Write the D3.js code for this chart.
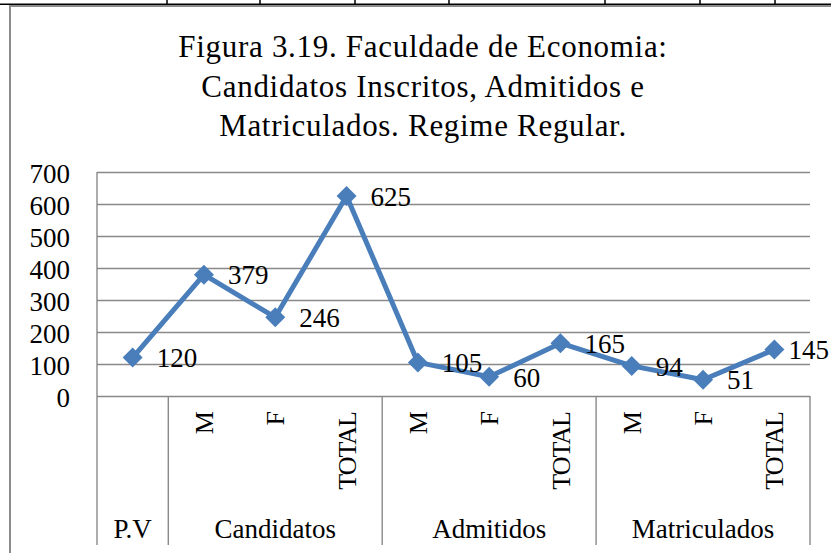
<!DOCTYPE html>
<html>
<head>
<meta charset="utf-8">
<script src="https://cdn.jsdelivr.net/npm/d3@7"></script>
<style>
  html, body { margin: 0; padding: 0; background: #fff; }
  svg { display: block; }
  text { font-family: "Liberation Serif", "Times New Roman", serif; fill: #000; }
</style>
</head>
<body>
<svg id="chart" width="831" height="553"></svg>
<script>
// ---- data ----
const titleLines = ["Figura 3.19. Faculdade de Economia:", "Candidatos Inscritos, Admitidos e", "Matriculados. Regime Regular."];
const groups = ["P.V", "Candidatos", "Admitidos", "Matriculados"];
const groupSizes = [1, 3, 3, 3];
const subLabels = ["", "M", "F", "TOTAL", "M", "F", "TOTAL", "M", "F", "TOTAL"];
const values = [120, 379, 246, 625, 105, 60, 165, 94, 51, 145];
const yTicks = [0, 100, 200, 300, 400, 500, 600, 700];
const topRuleTicks = [167, 260, 355, 449, 605, 700, 775];

// ---- layout ----
const svg = d3.select("#chart");
const W = 831, H = 553;
const plot = { left: 97, right: 810, top: 172, bottom: 396, axisBottom: 545 };
const lineColor = "#4a7ebb";
const gridColor = "#898989";

// decorative page rule at top & chart border
svg.append("line").attr("x1", 0).attr("x2", W).attr("y1", 4.2).attr("y2", 4.2)
  .attr("stroke", "#000").attr("stroke-width", 1.6);
svg.selectAll("line.tr").data(topRuleTicks).enter().append("line")
  .attr("x1", d => d).attr("x2", d => d).attr("y1", 0).attr("y2", 4.5)
  .attr("stroke", "#000").attr("stroke-width", 1.5);
svg.append("path").attr("d", `M10,${H + 5}V6H${W + 5}`)
  .attr("fill", "none").attr("stroke", "#8c8c8c").attr("stroke-width", 2);

// title
const title = svg.append("text").attr("text-anchor", "middle")
  .style("font-size", "31px").style("letter-spacing", "0.7px");
titleLines.forEach((t, i) => {
  title.append("tspan").attr("x", 423).attr("y", 57 + i * 39.5).text(t);
});

// scales
const idx = d3.range(values.length);
const x = d3.scaleBand().domain(idx).range([plot.left, plot.right]).padding(0);
const y = d3.scaleLinear().domain([0, 700]).range([plot.bottom, plot.top]);

// gridlines
const grid = svg.append("g").attr("transform", `translate(${plot.left},0)`)
  .call(d3.axisLeft(y).tickValues(yTicks).tickSize(-(plot.right - plot.left)).tickFormat(""));
grid.select(".domain").remove();
grid.selectAll(".tick line").attr("stroke", gridColor).attr("stroke-width", 1.4);

// y axis labels
const yAxis = svg.append("g").attr("transform", `translate(${plot.left},0)`)
  .call(d3.axisLeft(y).tickValues(yTicks).tickSize(0).tickPadding(27));
yAxis.select(".domain").remove();
yAxis.selectAll(".tick text").style("font-size", "27px")
  .style("font-family", "Liberation Serif, serif").attr("dy", "0.38em");

// vertical axis line (extends down through category area)
svg.append("line").attr("x1", plot.left).attr("x2", plot.left)
  .attr("y1", plot.top).attr("y2", plot.axisBottom)
  .attr("stroke", gridColor).attr("stroke-width", 1.4);

// group dividers
let acc = 0;
const groupStarts = groupSizes.map(s => { const a = acc; acc += s; return a; });
const dividers = groupStarts.slice(1).map(s => x(s)).concat([plot.right]);
svg.selectAll("line.div").data(dividers).enter().append("line")
  .attr("x1", d => d).attr("x2", d => d)
  .attr("y1", plot.bottom).attr("y2", plot.axisBottom)
  .attr("stroke", gridColor).attr("stroke-width", 1.4);

// sub labels (rotated)
svg.selectAll("text.sub").data(idx.filter(i => subLabels[i])).enter().append("text")
  .attr("transform", i => `translate(${x(i) + x.bandwidth() / 2},412) rotate(-90)`)
  .attr("text-anchor", "end").attr("dy", "0.35em")
  .style("font-size", "26px").style("letter-spacing", "-1px").text(i => subLabels[i]);

// group labels
svg.selectAll("text.grp").data(groups).enter().append("text")
  .attr("x", (g, i) => (x(groupStarts[i]) + x(groupStarts[i]) + groupSizes[i] * x.bandwidth()) / 2)
  .attr("y", 538).attr("text-anchor", "middle")
  .style("font-size", "27px").text(g => g);

// line
const cx = i => x(i) + x.bandwidth() / 2;
svg.append("path").datum(idx)
  .attr("d", d3.line().x(cx).y(i => y(values[i])))
  .attr("fill", "none").attr("stroke", lineColor).attr("stroke-width", 5)
  .attr("stroke-linejoin", "round");

// markers (diamonds)
const r = 10;
svg.selectAll("path.mk").data(idx).enter().append("path")
  .attr("transform", i => `translate(${cx(i)},${y(values[i])})`)
  .attr("d", `M0,${-r}L${r},0L0,${r}L${-r},0Z`).attr("fill", lineColor);

// data labels
svg.selectAll("text.lbl").data(idx).enter().append("text")
  .attr("x", i => cx(i) + 24).attr("y", i => y(values[i]))
  .attr("dy", "0.36em").style("font-size", "27px").text(i => values[i])
  .each(function () {
    const len = this.getComputedTextLength();
    const xx = +this.getAttribute("x");
    if (xx + len > W - 2) this.setAttribute("x", W - 2 - len);
  });
</script>
</body>
</html>
